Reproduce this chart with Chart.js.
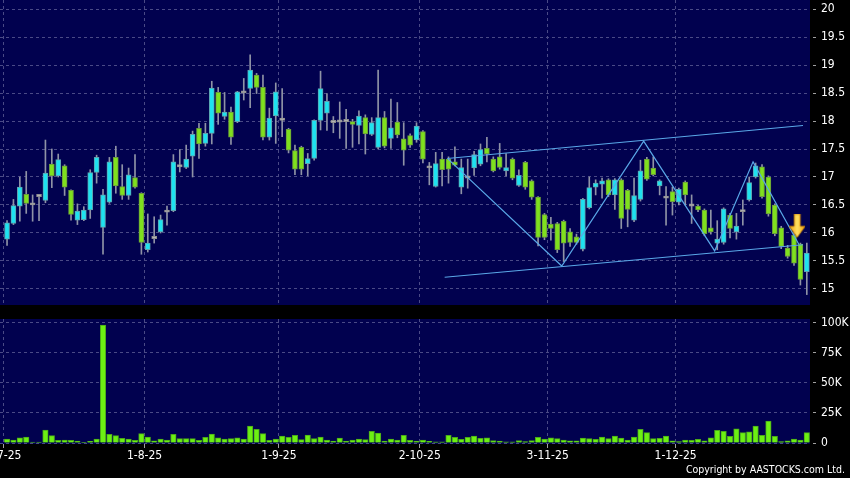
<!DOCTYPE html>
<html><head><meta charset="utf-8">
<script src="https://cdn.jsdelivr.net/npm/chart.js@4.4.1/dist/chart.umd.min.js"></script>
<style>
html,body{margin:0;padding:0;background:#000;overflow:hidden;}
#wrap{position:relative;width:850px;height:478px;background:#000;}
canvas{position:absolute;left:0;top:0;}
#copy{position:absolute;right:5px;top:463px;color:#fff;font:10.5px "DejaVu Sans Condensed","Liberation Sans Narrow","DejaVu Sans",sans-serif;}
</style></head><body>
<div id="wrap">
<canvas id="vol" width="850" height="478"></canvas>
<canvas id="price" width="850" height="478"></canvas>
<div id="copy">Copyright by AASTOCKS.com Ltd.</div>
</div>
<script>
// ---- data (one entry per trading day, 2-7-25 .. 31-12-25) ----
const openP = [15.89,16.17,16.48,16.69,16.50,16.65,16.58,17.23,17.02,17.20,16.76,16.23,16.24,16.41,17.08,16.10,16.55,17.35,16.83,16.67,
16.99,16.71,15.70,15.90,16.02,16.37,16.40,17.18,17.17,17.37,17.87,17.60,17.78,18.51,18.08,18.16,17.99,18.50,18.58,18.82,
18.60,17.71,18.09,18.01,17.85,17.47,17.53,17.24,17.33,18.01,18.14,17.97,17.98,17.99,17.99,17.92,18.06,17.76,17.53,18.06,
17.69,17.98,17.68,17.74,17.66,17.81,17.16,16.83,17.32,17.32,17.27,16.82,16.98,17.16,17.23,17.51,17.32,17.36,17.11,17.32,
16.85,17.26,16.93,16.64,16.33,16.16,16.17,16.21,16.02,15.93,15.71,16.45,16.82,16.87,16.95,16.68,16.95,16.76,16.23,16.60,
17.32,17.16,16.84,16.62,16.74,16.55,16.91,16.48,16.48,16.41,16.09,15.82,15.83,16.32,16.02,16.38,16.59,17.00,17.18,17.00,
16.50,16.09,15.73,15.96,15.80,15.31];
const highP = [16.22,16.60,17.00,17.10,16.68,16.68,17.66,17.50,17.41,17.22,16.77,16.52,16.47,17.13,17.39,16.78,17.35,17.55,17.22,17.16,
17.40,16.72,16.34,16.29,16.32,16.48,17.40,17.49,17.57,17.82,17.96,17.96,18.71,18.60,18.51,18.25,18.53,18.76,19.18,18.85,
18.82,18.23,18.68,18.58,17.87,17.57,17.55,17.42,18.02,18.89,18.49,18.08,18.34,18.21,18.03,18.18,18.11,18.06,18.91,18.17,
18.39,18.33,17.97,17.77,17.97,17.83,17.26,17.44,17.44,17.36,17.54,17.32,17.32,17.46,17.59,17.71,17.36,17.60,17.42,17.34,
17.13,17.28,16.95,16.65,16.35,16.28,16.19,16.23,16.08,15.98,16.62,17.00,16.95,16.98,16.97,16.97,16.97,16.78,16.98,17.30,
17.35,17.36,16.95,16.83,16.82,16.80,16.93,16.68,16.50,16.43,16.41,16.22,16.45,16.35,16.35,16.59,17.00,17.25,17.22,17.02,
16.52,16.12,15.78,16.00,15.82,15.82];
const lowP = [15.78,16.15,16.21,16.35,16.21,16.22,16.54,16.81,17.00,16.67,16.23,16.15,16.22,16.26,16.89,15.62,16.53,16.71,16.60,16.60,
16.80,15.62,15.66,15.82,16.00,16.14,16.38,17.09,17.15,17.00,17.33,17.55,17.59,17.94,18.03,17.58,17.97,18.375,18.24,18.49,
17.66,17.66,17.60,17.72,17.43,17.04,17.04,17.02,17.30,17.84,17.83,17.79,17.69,17.51,17.53,17.59,17.41,17.74,17.50,17.52,
17.51,17.70,17.21,17.53,17.62,17.25,16.86,16.82,16.84,16.89,17.20,16.70,16.80,17.03,17.20,17.27,17.09,17.14,17.02,16.95,
16.83,16.78,16.60,15.77,15.88,15.87,15.65,15.49,15.76,15.80,15.68,16.43,16.68,16.62,16.65,16.42,16.08,16.11,16.20,16.57,
16.94,17.02,16.68,16.14,16.32,16.50,16.50,16.17,16.38,15.95,15.98,15.70,15.80,15.91,15.89,16.14,16.57,16.98,16.62,16.30,
15.95,15.72,15.55,15.42,15.07,14.90];
const closeP = [16.18,16.49,16.82,16.53,16.54,16.69,17.07,17.02,17.31,16.82,16.33,16.39,16.41,17.08,17.35,16.68,17.27,16.84,16.67,17.04,
16.82,15.83,15.82,15.94,16.24,16.41,17.27,17.22,17.32,17.76,17.59,17.78,18.59,18.14,18.16,17.71,18.52,18.54,18.91,18.60,
17.71,18.05,18.52,18.05,17.48,17.14,17.14,17.33,18.01,18.58,18.35,18.01,18.02,18.03,17.94,18.09,17.77,17.97,18.06,17.55,
17.88,17.75,17.48,17.57,17.91,17.32,17.20,17.24,17.13,17.14,17.21,17.17,17.02,17.40,17.49,17.41,17.11,17.17,17.17,16.98,
17.03,16.82,16.64,15.92,15.92,16.08,15.70,15.82,15.83,15.83,16.60,16.81,16.89,16.93,16.68,16.95,16.26,16.42,16.67,17.11,
16.96,17.04,16.93,16.66,16.56,16.78,16.68,16.52,16.41,15.99,16.02,15.89,16.43,16.08,16.125,16.42,16.90,17.20,16.65,16.34,
15.99,15.76,15.58,15.46,15.17,15.64];
const volumeK = [3.3,2.5,4.4,5.0,0.8,0.8,10.8,6.1,2.2,2.5,2.2,1.7,0.3,1.4,3.3,98.3,7.2,6.1,3.9,3.3,
2.2,7.8,5.0,1.9,3.3,2.5,7.2,3.6,3.6,3.6,2.2,4.7,7.5,4.4,3.3,3.6,4.4,3.3,14.2,11.4,
7.8,2.2,3.3,5.8,4.7,6.4,2.8,6.7,3.6,5.0,2.5,1.7,4.2,1.7,2.5,3.3,2.8,9.7,8.3,1.7,
3.3,2.5,6.4,2.2,1.7,2.5,1.4,0.9,0.9,6.4,4.7,3.0,4.7,5.8,3.9,4.4,2.0,1.7,0.9,0.9,
2.0,1.1,2.0,4.7,3.3,4.4,3.6,2.5,1.9,1.9,4.2,3.6,3.1,5.0,3.6,5.8,4.2,2.5,5.0,11.4,
8.6,3.6,3.9,5.8,1.9,1.1,2.5,2.2,3.1,1.9,4.4,10.6,9.7,5.6,11.9,8.6,9.4,14.2,6.4,18.3,
5.6,1.1,1.9,3.3,2.5,8.6];

// month tick positions (between trading days) and labels
const monthTickPos = [-0.5, 21.5, 42.5, 64.5, 84.5, 104.5];
const monthLabels = ['2-7-25','1-8-25','1-9-25','2-10-25','3-11-25','1-12-25'];
const priceTicks = [15,15.5,16,16.5,17,17.5,18,18.5,19,19.5,20];
const volTicksK = [0,25,50,75,100];
const volTickLabels = ['0','25K','50K','75K','100K'];

// drawn trend lines (trading-day index, price)
const chanUpperIdx = [68.8, 124.4], chanUpperPrice = [17.33, 17.92];
const chanLowerIdx = [68.4, 124.4], chanLowerPrice = [15.21, 15.79];
const zigIdx = [68.95, 86.7, 99.5, 110.6, 116.6, 123.75];
const zigPrice = [17.32, 15.41, 17.64, 15.68, 17.27, 15.80];
const arrowIdx = [123.5], arrowPrice = [16.12];

// ---- styles ----
const NAVY = '#01014f';
const GRID = '#4a4a86';
const FONT = '"DejaVu Sans Condensed","Liberation Sans Narrow","DejaVu Sans",sans-serif';
const UP = '#1ee2f0', UPB = '#5fa3ae';
const DN = '#7fe01e', DNB = '#6a9a3c';
const DJ = '#b4b4b4', DJB = '#909090';
const XMIN = -1.1, XMAX = 125.5;

const kind = openP.map((o,i)=>{const d=closeP[i]-o; return Math.abs(d)<=0.041?0:(d>0?1:-1);});
const bodyFill = kind.map(k=>k>0?UP:(k<0?DN:DJ));
const bodyBorder = kind.map(k=>k>0?UPB:(k<0?DNB:DJB));

const bgPlugin = {id:'bg', beforeDraw(c){const a=c.chartArea, x=c.ctx; x.save(); x.fillStyle=NAVY; x.fillRect(a.left,a.top,a.right-a.left,a.bottom-a.top); x.restore();}};

function arrowImage(){
  const cv=document.createElement('canvas'); cv.width=16; cv.height=24;
  const g=cv.getContext('2d');
  const grad=g.createLinearGradient(0,0,16,0);
  grad.addColorStop(0,'#f0a010'); grad.addColorStop(0.5,'#ffe060'); grad.addColorStop(1,'#f0a010');
  g.fillStyle=grad;
  g.beginPath(); g.moveTo(5,0); g.lineTo(11,0); g.lineTo(11,12); g.lineTo(16,12); g.lineTo(8,23); g.lineTo(0,12); g.lineTo(5,12); g.closePath(); g.fill();
  g.strokeStyle='#c98000'; g.lineWidth=0.8; g.stroke();
  return cv;
}
const pts = (xs,ys)=>xs.map((v,i)=>({x:v,y:ys[i]}));
const idx = openP.map((_,i)=>i);

const yAxisCommon = (ticksArr, labels) => ({
  type:'linear', position:'right',
  afterBuildTicks:s=>{s.ticks=ticksArr.map(v=>({value:v}));},
  ticks:{color:'#ffffff', font:{family:FONT,size:12}, padding:4, callback:(v,i)=>labels[i]},
  grid:{color:GRID, lineWidth:1, drawTicks:true, tickLength:7, tickColor:'#a0a0a0', tickBorderDash:[3,3], tickBorderDashOffset:3},
  border:{display:false, dash:[3,3]},
  afterFit:s=>{s.width=40; s.paddingTop=0; s.paddingBottom=0;}
});
const xAxisCommon = () => ({
  type:'linear', min:XMIN, max:XMAX, offset:false,
  afterBuildTicks:s=>{s.ticks=monthTickPos.map(v=>({value:v}));},
  border:{display:false, dash:[3,3]}
});

new Chart(document.getElementById('price'), {
  type:'bar',
  data:{datasets:[
    {type:'bar', order:4, grouped:false, barThickness:1, backgroundColor:'#8f93a6', borderWidth:0,
     data: idx.map(i=>({x:i, y:[lowP[i], highP[i]]}))},
    {type:'bar', order:3, grouped:false, barThickness:5, backgroundColor:bodyFill, borderColor:bodyBorder, borderWidth:1, borderSkipped:false,
     data: idx.map(i=>({x:i, y:[openP[i], closeP[i]]}))},
    {type:'line', order:2, data:pts(chanUpperIdx,chanUpperPrice), borderColor:'#5aa8e8', borderWidth:1.2, pointRadius:0, fill:false},
    {type:'line', order:2, data:pts(chanLowerIdx,chanLowerPrice), borderColor:'#5aa8e8', borderWidth:1.2, pointRadius:0, fill:false},
    {type:'line', order:2, data:pts(zigIdx,zigPrice), borderColor:'#5aa8e8', borderWidth:1.2, pointRadius:0, fill:false, tension:0},
    {type:'scatter', order:1, data:pts(arrowIdx,arrowPrice), pointStyle:arrowImage(), pointRadius:6, showLine:false}
  ]},
  options:{
    responsive:false, animation:false, events:[],
    layout:{autoPadding:false, padding:{left:0,right:0,top:0,bottom:173}},
    plugins:{legend:{display:false}, tooltip:{enabled:false}},
    scales:{
      x:Object.assign(xAxisCommon(), {
         ticks:{display:false}, grid:{color:GRID, drawTicks:false, offset:false},
         afterFit:s=>{s.height=0; s.paddingLeft=0; s.paddingRight=0;}}),
      y:Object.assign(yAxisCommon(priceTicks, priceTicks.map(String)), {min:14.714, max:20.161})
    }
  },
  plugins:[bgPlugin]
});

new Chart(document.getElementById('vol'), {
  type:'bar',
  data:{datasets:[
    {type:'bar', grouped:false, barThickness:5.5, backgroundColor:'#6cf013', borderColor:'#4aa81a', borderWidth:1, borderSkipped:'bottom',
     data: idx.map(i=>({x:i, y:volumeK[i]}))}
  ]},
  options:{
    responsive:false, animation:false, events:[],
    layout:{autoPadding:false, padding:{left:0,right:0,top:319,bottom:0}},
    plugins:{legend:{display:false}, tooltip:{enabled:false}},
    scales:{
      x:Object.assign(xAxisCommon(), {
         ticks:{color:'#ffffff', font:{family:FONT,size:12}, padding:1, maxRotation:0, autoSkip:false, callback:(v,i)=>monthLabels[i]},
         grid:{color:GRID, drawTicks:true, tickLength:4, tickColor:'#a0a0a0', offset:false},
         afterFit:s=>{s.height=34; s.paddingLeft=0; s.paddingRight=0;}}),
      y:Object.assign(yAxisCommon(volTicksK, volTickLabels), {min:-0.833, max:103.33})
    }
  },
  plugins:[bgPlugin]
});
</script>
</body></html>
